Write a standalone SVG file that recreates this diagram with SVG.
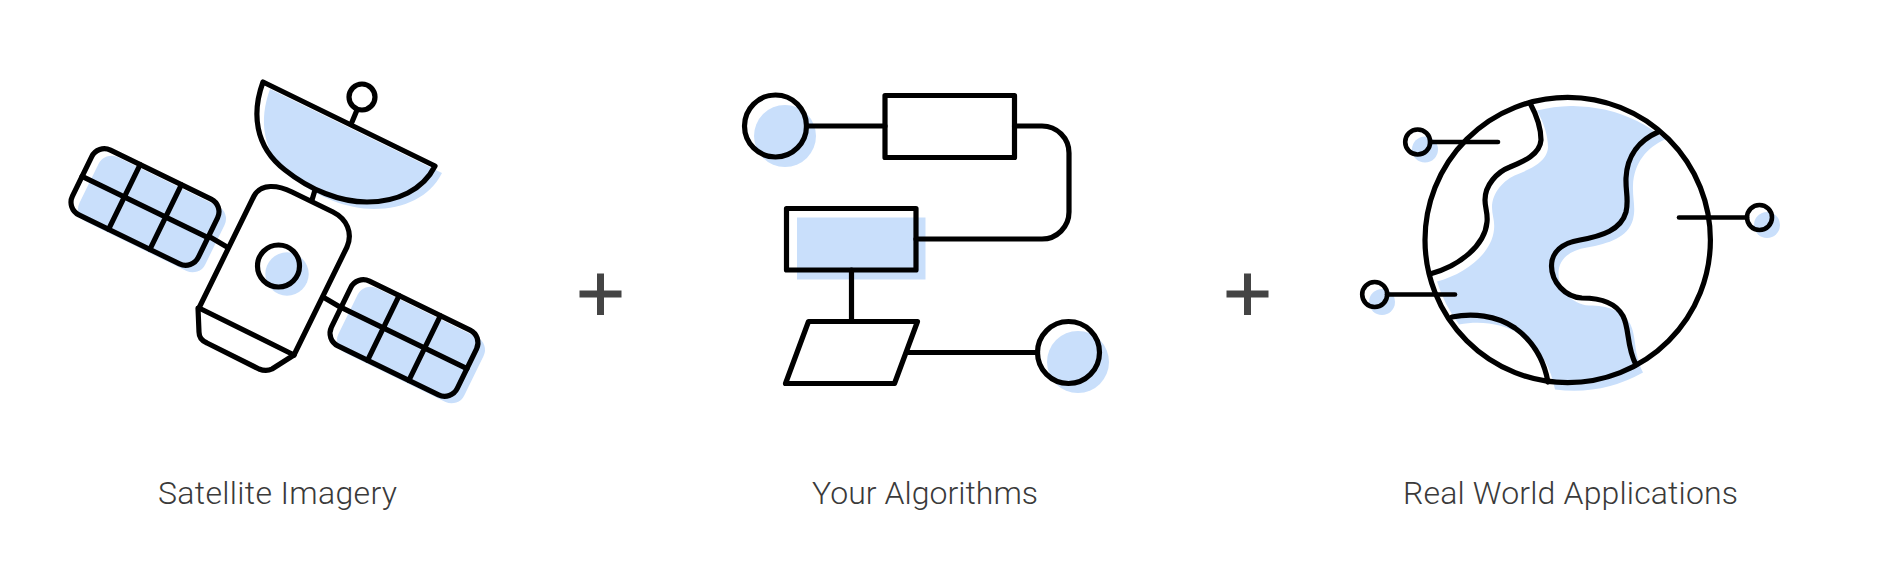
<svg xmlns="http://www.w3.org/2000/svg" width="1896" height="586" viewBox="0 0 1896 586">
<style>
.s{fill:none;stroke:#000;stroke-width:5.2;stroke-linejoin:round;stroke-linecap:round}
.t{stroke-width:4.6}
.b{fill:#c9dffb;stroke:none}
.l{font-family:"Roboto","Liberation Sans",sans-serif;font-size:32px;font-weight:300;fill:#3a3a3a;text-anchor:middle}
.p{fill:#444}
</style>
<rect width="1896" height="586" fill="#fff"/>
<g id="satellite">
<g id="dish">
<path class="b" transform="translate(7,7)" d="M263 82C252 112 254 146 285 170C310 190 340 202 367 202C397 202 423 190 435 166Z"/>
<path class="s" d="M263 82C252 112 254 146 285 170C310 190 340 202 367 202C397 202 423 190 435 166Z"/>
<circle class="s" cx="362" cy="97" r="13"/>
<path class="s" d="M352 122L357 110"/>
<path class="s" d="M315 190L312 200"/>
</g>
<g id="left-panel">
<rect class="b" x="-70" y="-36" width="140" height="72" rx="14" transform="translate(152,214) rotate(26)"/>
<g class="s" transform="translate(145,207) rotate(26)">
<rect x="-70" y="-36" width="140" height="72" rx="14"/>
<path d="M-70 0H70M-23 -36V36M23 -36V36"/>
</g>
<path class="s" d="M210 237L227 247"/>
</g>
<g id="right-panel">
<rect class="b" x="-70" y="-36" width="140" height="72" rx="14" transform="translate(411,345) rotate(26)"/>
<g class="s" transform="translate(404,338) rotate(26)">
<rect x="-70" y="-36" width="140" height="72" rx="14"/>
<path d="M-70 0H70M-23 -36V36M23 -36V36"/>
</g>
<path class="s" d="M323 297L340 307"/>
</g>
<g id="body">
<circle class="b" cx="287" cy="274" r="21.7"/>
<path class="s" d="M199 308L254 196C261 183 278 185 292 192L333 212C347 219 353 233 347 247L294 355Z"/>
<path class="s" d="M198 308L199 332C199 337 202 341 207 343L259 369C264 371 268 371 272 369L294 355"/>
<circle class="s" cx="278.500" cy="266" r="21"/>
</g>
</g>
<g id="algorithms">
<g id="start"><circle class="b" cx="785" cy="136" r="31"/><circle class="s" cx="775.500" cy="126" r="31"/></g>
<g id="process"><rect class="s" x="885" y="95.500" width="129.500" height="62"/></g>
<g id="decision"><rect class="b" x="797" y="217.500" width="128.500" height="62"/><rect class="s" x="786.500" y="208.500" width="129.500" height="61.500"/></g>
<g id="data"><path class="s" d="M808.500 321.500H917.500L894.500 383.500H785.500Z"/></g>
<g id="end"><circle class="b" cx="1078" cy="362" r="31"/><circle class="s" cx="1068.500" cy="352.500" r="31"/></g>
<g id="connectors">
<path class="s" d="M806.500 126H885"/>
<path class="s" d="M1014.500 126H1042A27 27 0 0 1 1069 153V212A27 27 0 0 1 1042 239H916"/>
<path class="s" d="M851.500 270V321.500"/>
<path class="s" d="M906.500 352.500H1037.500"/>
</g>
</g>
<g id="globe">
<path class="b" transform="translate(7,7.500)" d="M1530 103C1537 116 1541 128 1541 140C1540 155 1522 162 1510 167C1497 172 1485 185 1485 200C1485 208 1488 213 1487 222C1485 245 1460 266 1430 274A142.700 142.700 0 0 0 1452 317C1472 313 1496 315 1515 328C1533 341 1544 360 1548 382A142.700 142.700 0 0 0 1636 365C1626 345 1630 330 1623 316C1616 303 1600 298 1582 298C1565 297 1551.500 282 1551.500 266C1551.500 252 1562 243 1580 240C1602 236 1621 230 1626 212C1629 200 1625.500 192 1626 178C1627 155 1640 140 1658 132A142.700 142.700 0 0 0 1530 103Z"/>
<circle class="b" cx="1425" cy="149.500" r="13"/>
<circle class="b" cx="1382" cy="302" r="13"/>
<circle class="b" cx="1767" cy="225" r="13"/>
<circle class="s" cx="1567.700" cy="240" r="142.700"/>
<path class="s" d="M1530 103C1537 116 1541 128 1541 140C1540 155 1522 162 1510 167C1497 172 1485 185 1485 200C1485 208 1488 213 1487 222C1485 245 1460 266 1430 274"/>
<path class="s" d="M1658 132C1640 140 1627 155 1626 178C1625.500 192 1629 200 1626 212C1621 230 1602 236 1580 240C1562 243 1551.500 252 1551.500 266C1551.500 282 1565 297 1582 298C1600 298 1616 303 1623 316C1630 330 1626 345 1636 365"/>
<path class="s" d="M1452 317C1472 313 1496 315 1515 328C1533 341 1544 360 1548 382"/>
<g id="pin-1"><circle class="s t" cx="1417.700" cy="142" r="12.500"/><path class="s t" d="M1430 142H1498"/></g>
<g id="pin-2"><circle class="s t" cx="1374.700" cy="294.500" r="12.500"/><path class="s t" d="M1387 294.500H1455"/></g>
<g id="pin-3"><circle class="s t" cx="1759.500" cy="217.500" r="12.500"/><path class="s t" d="M1679 217.500H1747"/></g>
</g>
<path id="plus-1" class="p" d="M597 273.500H604V290.500H621.500V297.500H604V315H597V297.500H579.500V290.500H597Z"/>
<path id="plus-2" class="p" d="M1244 273.500H1251V290.500H1268.500V297.500H1251V315H1244V297.500H1226.500V290.500H1244Z"/>
<text id="label-1" class="l" x="277.500" y="503.500" textLength="239">Satellite Imagery</text>
<text id="label-2" class="l" x="925" y="503.500" textLength="226">Your Algorithms</text>
<text id="label-3" class="l" x="1570.500" y="503.500" textLength="335">Real World Applications</text>
</svg>
